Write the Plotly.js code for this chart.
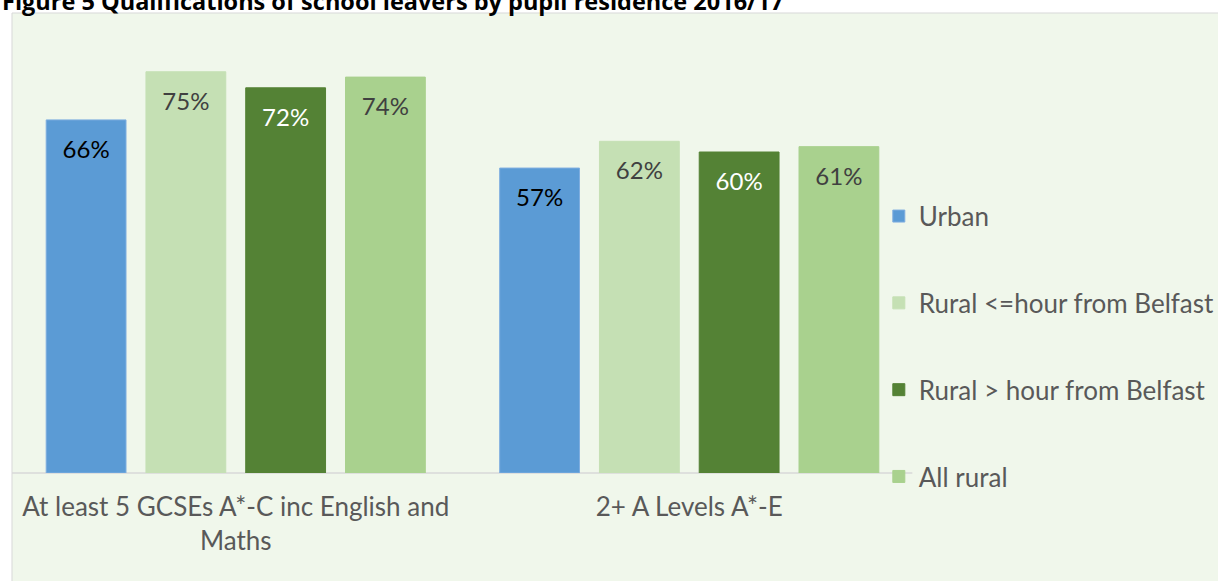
<!DOCTYPE html>
<html>
<head>
<meta charset="utf-8">
<script src="https://cdn.plot.ly/plotly-3.0.1.min.js"></script>
<style>html,body{margin:0;padding:0;background:#fff;}#chart{width:1218px;height:581px;}</style>
</head>
<body>
<div id="chart"></div>
<script>
const categories = ["At least 5 GCSEs A*-C inc English and<br>Maths", "2+ A Levels A*-E"];
const seriesNames = ["Urban", "Rural <=hour from Belfast", "Rural > hour from Belfast", "All rural"];
const urban = [0.66, 0.57];
const ruralNear = [0.75, 0.62];
const ruralFar = [0.72, 0.60];
const allRural = [0.74, 0.61];
const seriesValues = [urban, ruralNear, ruralFar, allRural];
const colors = ["#5B9BD5", "#C5E0B4", "#548235", "#A9D18E"];
const lineColors = ["#7FAEE0", "#C5E0B4", "#548235", "#A9D18E"];
const labelColors = ["#000000", "#404040", "#FFFFFF", "#404040"];
const titleText = "Figure 5 Qualifications of school leavers by pupil residence 2016/17";

const FONT = "Lato, 'Open Sans', sans-serif";
const traces = seriesNames.map((name, i) => ({
  type: "bar",
  name: name,
  x: categories,
  y: seriesValues[i],
  marker: {color: colors[i], line: {color: lineColors[i], width: 1}},
  texttemplate: "<span style='font-size:4px'>&nbsp;</span><br>%{y:.0%}",
  textposition: "inside",
  insidetextanchor: "end",
  textangle: 0,
  textfont: {family: FONT, size: 24, color: labelColors[i]},
  legendgroup: "g" + i,
  hoverinfo: "skip"
}));

const layout = {
  width: 1218, height: 581,
  margin: {l: 9, r: 302, t: 45, b: 108, autoexpand: false},
  paper_bgcolor: "#FFFFFF",
  plot_bgcolor: "rgba(0,0,0,0)",
  barmode: "group",
  bargap: 0.12,
  bargroupgap: 0.2,
  showlegend: true,
  legend: {
    x: 0.959, xanchor: "left", y: 0.655, yanchor: "top",
    font: {family: FONT, size: 26, color: "#595959"},
    traceorder: "grouped",
    tracegroupgap: 50,
    bgcolor: "rgba(0,0,0,0)",
    itemwidth: 30
  },
  xaxis: {
    showgrid: false, zeroline: false, showline: false,
    ticks: "", tickfont: {family: FONT, size: 26, color: "#595959"},
    ticklabelstandoff: 16
  },
  yaxis: {
    range: [0, 0.8], visible: false, showgrid: false, zeroline: false
  },
  shapes: [
    {type: "rect", xref: "paper", yref: "paper", x0: 0.0033, x1: 1.5, y0: -0.3, y1: 1.0748,
     fillcolor: "#F0F7EB", line: {color: "#D9D9D9", width: 1}, layer: "below"},
    {type: "line", xref: "paper", yref: "paper", x0: 0.0033, x1: 0.996, y0: 0, y1: 0,
     line: {color: "#D9D9D9", width: 1.5}, layer: "below"}
  ],
  annotations: [
    {text: "<b>" + titleText + "</b>", xref: "paper", yref: "paper", x: -0.0099, xanchor: "left",
     y: 1.06, yanchor: "bottom", showarrow: false,
     font: {family: "'Open Sans', sans-serif", size: 23.5, color: "#000000"}}
  ]
};

Plotly.newPlot("chart", traces, layout, {displayModeBar: false, staticPlot: true});
</script>
</body>
</html>
